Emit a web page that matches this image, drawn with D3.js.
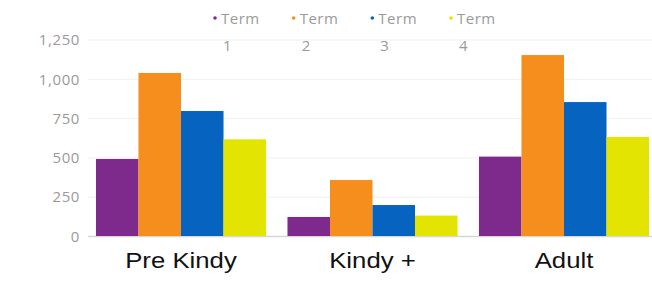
<!DOCTYPE html>
<html><head><meta charset="utf-8">
<script src="https://cdn.jsdelivr.net/npm/d3@7/dist/d3.min.js"></script>
<style>body{margin:0;background:#fff}svg{display:block}</style>
</head><body>
<script>
const categories = ["Pre Kindy", "Kindy +", "Adult"];
const seriesNames = ["Term 1", "Term 2", "Term 3", "Term 4"];
const term1 = [490, 121, 505];
const term2 = [1037, 356, 1151];
const term3 = [795, 197, 852];
const term4 = [615, 130, 630];
const seriesValues = [term1, term2, term3, term4];
const colors = ["#7d2a8c", "#f68e1e", "#0663c0", "#e3e402"];
const yTicks = [0, 250, 500, 750, 1000, 1250];

const W = 652, H = 282;
const svg = d3.select("body").append("svg").attr("width", W).attr("height", H);

const y = d3.scaleLinear().domain([0, 1250]).range([236, 39.5]);
const x0 = d3.scaleBand().domain(categories).range([85.25, 659.75]).paddingInner(0.112).paddingOuter(0.056);
const x1 = d3.scaleBand().domain(seriesNames).range([0, x0.bandwidth()]).padding(0);

// gridlines
const grid = svg.append("g");
grid.selectAll("line").data(yTicks).join("line")
  .attr("x1", 88).attr("x2", W)
  .attr("y1", d => y(d) + 0.5).attr("y2", d => y(d) + 0.5)
  .attr("stroke", d => d === 0 ? "#d6d6d6" : "#f0f0f0").attr("stroke-width", d => d === 0 ? 1.5 : 1);

// y axis labels
const yAxis = d3.axisLeft(y).tickValues(yTicks).tickFormat(d3.format(",")).tickSize(0).tickPadding(0);
const ya = svg.append("g").attr("transform", "translate(80,0)").call(yAxis);
ya.select(".domain").remove();
ya.selectAll("text").attr("fill", "#9a9a9a").style("font-family", "'Open Sans', sans-serif")
  .style("font-size", "15px").style("letter-spacing", "0.6px").attr("dy", "0.35em");

// bars
const groups = svg.append("g").selectAll("g").data(categories).join("g")
  .attr("transform", d => `translate(${x0(d)},0)`);
groups.selectAll("rect").data((c, ci) => seriesNames.map((s, si) => ({s, si, v: seriesValues[si][ci]})))
  .join("rect")
  .attr("x", d => x1(d.s)).attr("width", x1.bandwidth())
  .attr("y", d => y(d.v)).attr("height", d => y(0) - y(d.v))
  .attr("fill", d => colors[d.si]);

// category labels
svg.append("g").selectAll("text").data(categories).join("text")
  .attr("transform", d => `translate(${x0(d) + x0.bandwidth() / 2},268) scale(1.12,1)`)
  .attr("text-anchor", "middle")
  .style("font-family", "'Liberation Sans', Arial, sans-serif").style("font-size", "23px")
  .attr("fill", "#111").text(d => d);

// legend
const legX = d3.scalePoint().domain(seriesNames).range([215, 451]);
const leg = svg.append("g").selectAll("g").data(seriesNames).join("g")
  .attr("transform", d => `translate(${legX(d)},0)`);
leg.append("circle").attr("cx", 0).attr("cy", 18).attr("r", 1.8)
  .attr("fill", (d, i) => colors[i]);
leg.append("text").attr("x", 6).attr("y", 24)
  .style("font-family", "'Open Sans', sans-serif").style("font-size", "15px").style("letter-spacing", "0.5px")
  .attr("fill", "#9a9a9a").text(d => d.split(" ")[0]);
leg.append("text").attr("x", 8).attr("y", 51)
  .style("font-family", "'Open Sans', sans-serif").style("font-size", "15px")
  .attr("fill", "#9a9a9a").text(d => d.split(" ")[1]);
</script>
</body></html>
